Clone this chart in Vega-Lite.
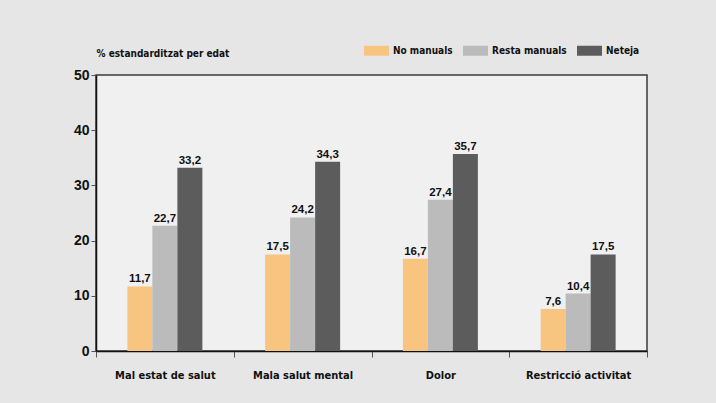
{
  "$schema": "https://vega.github.io/schema/vega-lite/v6.json",
  "width": 551,
  "height": 276,
  "autosize": "none",
  "padding": {"left": 96, "top": 75, "right": 69, "bottom": 52},
  "background": "#E6E6E6",
  "config": {
    "locale": {"number": {"decimal": ",", "thousands": ".", "grouping": [3], "currency": ["", " €"]}},
    "view": {"fill": "#F0F0F0", "stroke": "#3a3a3a", "strokeWidth": 1.5}
  },
  "data": {
    "values": [
      {"categoria": "Mal estat de salut", "grup": "No manuals", "valor": 11.7},
      {"categoria": "Mal estat de salut", "grup": "Resta manuals", "valor": 22.7},
      {"categoria": "Mal estat de salut", "grup": "Neteja", "valor": 33.2},
      {"categoria": "Mala salut mental", "grup": "No manuals", "valor": 17.5},
      {"categoria": "Mala salut mental", "grup": "Resta manuals", "valor": 24.2},
      {"categoria": "Mala salut mental", "grup": "Neteja", "valor": 34.3},
      {"categoria": "Dolor", "grup": "No manuals", "valor": 16.7},
      {"categoria": "Dolor", "grup": "Resta manuals", "valor": 27.4},
      {"categoria": "Dolor", "grup": "Neteja", "valor": 35.7},
      {"categoria": "Restricció activitat", "grup": "No manuals", "valor": 7.6},
      {"categoria": "Restricció activitat", "grup": "Resta manuals", "valor": 10.4},
      {"categoria": "Restricció activitat", "grup": "Neteja", "valor": 17.5}
    ]
  },
  "encoding": {
    "x": {
      "field": "categoria",
      "type": "nominal",
      "sort": null,
      "scale": {"paddingInner": 0, "paddingOuter": 0},
      "axis": {
        "title": null,
        "labelAngle": 0,
        "labelFont": "DejaVu Sans Condensed, Liberation Sans",
        "labelFontSize": 11,
        "labelFontWeight": "bold",
        "labelColor": "#111111",
        "labelPadding": 12,
        "tickBand": "extent",
        "tickSize": 6,
        "tickColor": "#555555",
        "domainColor": "#111111",
        "domainWidth": 1.5
      }
    },
    "xOffset": {
      "field": "grup",
      "type": "nominal",
      "sort": ["No manuals", "Resta manuals", "Neteja"],
      "scale": {"paddingInner": 0, "paddingOuter": 0, "range": [31.375, 106.375]}
    },
    "y": {
      "field": "valor",
      "type": "quantitative",
      "scale": {"domain": [0, 50]},
      "axis": {
        "title": "% estandarditzat per edat",
        "titleAngle": 0,
        "titleAlign": "left",
        "titleBaseline": "alphabetic",
        "titleX": 0,
        "titleY": -19,
        "titleFont": "DejaVu Sans Condensed, Liberation Sans",
        "titleFontSize": 10,
        "titleFontWeight": "bold",
        "titleColor": "#111111",
        "values": [0, 10, 20, 30, 40, 50],
        "grid": false,
        "labelFont": "Liberation Sans",
        "labelFontSize": 14,
        "labelFontWeight": "bold",
        "labelColor": "#111111",
        "labelPadding": 2,
        "tickSize": 5,
        "tickColor": "#555555",
        "domainColor": "#111111",
        "domainWidth": 1.5
      }
    }
  },
  "layer": [
    {
      "mark": {"type": "bar"},
      "encoding": {
        "color": {
          "field": "grup",
          "type": "nominal",
          "sort": ["No manuals", "Resta manuals", "Neteja"],
          "scale": {"domain": ["No manuals", "Resta manuals", "Neteja"], "range": ["#F8C580", "#BBBBBB", "#5C5C5C"]},
          "legend": {
            "title": null,
            "orient": "none",
            "direction": "horizontal",
            "legendX": 268,
            "legendY": -37,
            "symbolType": "M-1,-0.4H1V0.4H-1Z",
            "symbolSize": 625,
            "symbolStrokeWidth": 0,
            "symbolOpacity": 1,
            "labelFont": "DejaVu Sans Condensed, Liberation Sans",
            "labelFontSize": 10,
            "labelFontWeight": "bold",
            "labelColor": "#111111",
            "labelOffset": 4,
            "columnPadding": 10
          }
        }
      }
    },
    {
      "mark": {
        "type": "text",
        "baseline": "bottom",
        "dy": -2,
        "font": "Liberation Sans",
        "fontSize": 11.5,
        "fontWeight": "bold",
        "color": "#111111"
      },
      "encoding": {
        "text": {"field": "valor", "type": "quantitative", "format": ".1f"}
      }
    }
  ]
}
